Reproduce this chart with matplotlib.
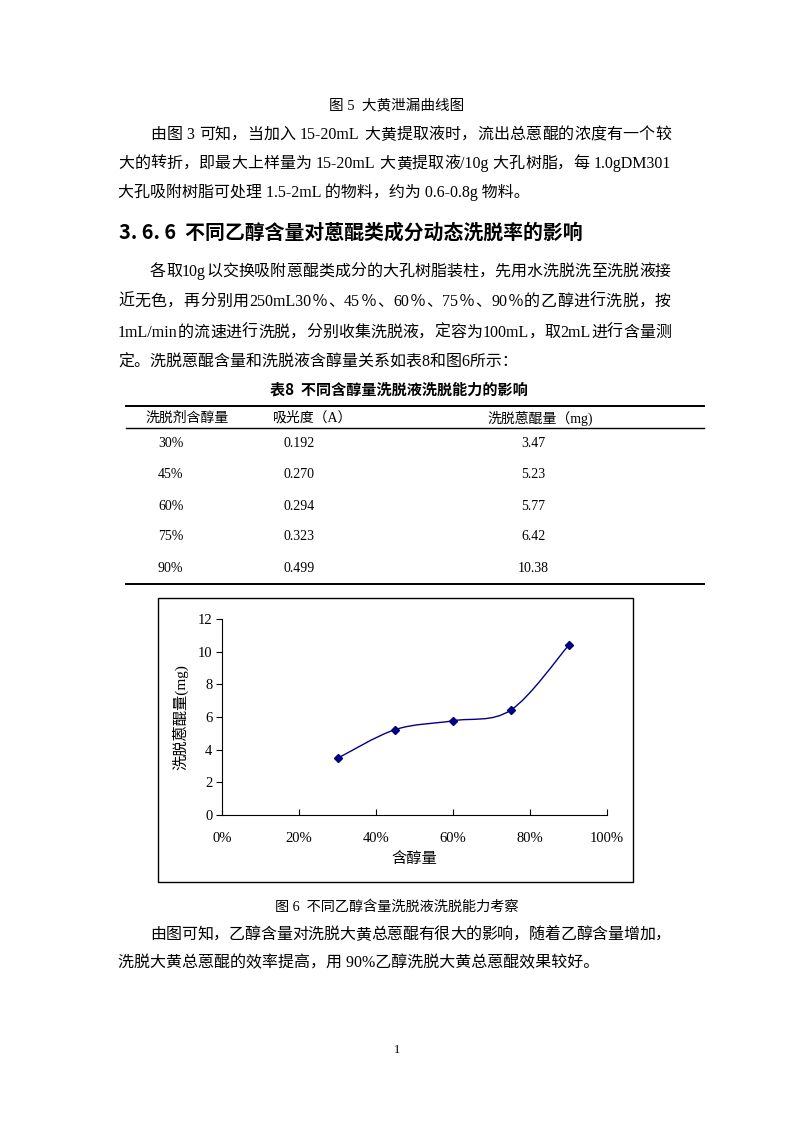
import matplotlib
matplotlib.use('Agg')
import matplotlib.pyplot as plt
from matplotlib.path import Path
from matplotlib.patches import PathPatch, Rectangle
from matplotlib.lines import Line2D

plt.rcParams['font.family'] = ['Liberation Serif', 'Noto Sans CJK SC']

# 表8 / 图6 数据
alcohol = [30, 45, 60, 75, 90]
alcohol_labels = ['30%', '45%', '60%', '75%', '90%']
absorbance = ['0.192', '0.270', '0.294', '0.323', '0.499']
anthraquinone = [3.47, 5.23, 5.77, 6.42, 10.38]
x_ticks = [0, 20, 40, 60, 80, 100]
y_ticks = [0, 2, 4, 6, 8, 10, 12]
headers = ['洗脱剂含醇量', '吸光度（A）', '洗脱蒽醌量（mg)']

W, H = 794, 1123
fig = plt.figure(figsize=(7.94, 11.23), dpi=100)
renderer = fig.canvas.get_renderer()


def fx(x):
    return x / W


def fy(y):
    return 1 - y / H


def put_line(s, x0, y, size=11.5, x1=None, **kw):
    # 两端对齐: 把多出来的宽度平均分到每个字之间
    if x1 is None:
        fig.text(fx(x0), fy(y), s, fontsize=size, va='center', **kw)
        return
    tokens = []
    buf = ''
    for ch in s:
        if ord(ch) < 128 and ch != ' ':
            buf += ch
        else:
            if buf:
                tokens.append(buf)
                buf = ''
            tokens.append(ch)
    if buf:
        tokens.append(buf)
    widths = []
    for t in tokens:
        if t == ' ':
            widths.append(0.25 * size * 100 / 72)
            continue
        tt = fig.text(0, 0, t, fontsize=size)
        widths.append(tt.get_window_extent(renderer).width)
        tt.remove()
    gap = (x1 - x0 - sum(widths)) / (len(tokens) - 1)
    x = x0
    for t, w in zip(tokens, widths):
        if t != ' ':
            fig.text(fx(x), fy(y), t, fontsize=size, va='center', **kw)
        x += w + gap


# 上一节结尾
fig.text(fx(397), fy(105), '图 5  大黄泄漏曲线图', fontsize=10.5, ha='center', va='center')
put_line('由图 3 可知，当加入 15-20mL 大黄提取液时，流出总蒽醌的浓度有一个较', 150, 135, x1=671)
put_line('大的转折，即最大上样量为 15-20mL 大黄提取液/10g 大孔树脂，每 1.0gDM301', 118, 164, x1=671)
put_line('大孔吸附树脂可处理 1.5-2mL 的物料，约为 0.6-0.8g 物料。', 118, 192)

fig.text(fx(119), fy(232), '3. 6. 6  不同乙醇含量对蒽醌类成分动态洗脱率的影响', fontsize=14.3,
         fontweight='bold', family=['Noto Sans CJK SC'], va='center')

put_line('各取10g以交换吸附蒽醌类成分的大孔树脂装柱，先用水洗脱洗至洗脱液接', 150, 272, x1=671)
put_line('近无色，再分别用250mL30％、45％、60％、75％、90％的乙醇进行洗脱，按', 118, 302, x1=671)
put_line('1mL/min的流速进行洗脱，分别收集洗脱液，定容为100mL，取2mL进行含量测', 118, 333, x1=671)
put_line('定。洗脱蒽醌含量和洗脱液含醇量关系如表8和图6所示：', 118, 363)

# 表8
fig.text(fx(399), fy(390), '表8  不同含醇量洗脱液洗脱能力的影响', fontsize=10.9, fontweight='bold',
         family=['Noto Sans CJK SC'], ha='center', va='center')
for y, lw in [(406, 1.4), (428, 1.0), (584, 1.4)]:
    fig.add_artist(Line2D([fx(126), fx(704)], [fy(y), fy(y)], color='black', lw=lw))
fig.text(fx(145), fy(418), headers[0], fontsize=10, va='center')
fig.text(fx(273), fy(418), headers[1], fontsize=10, va='center')
fig.text(fx(540), fy(418), headers[2], fontsize=10, ha='center', va='center')
row_y = [443, 475, 506, 537, 568]
for yy, a, b, c in zip(row_y, alcohol_labels, absorbance, anthraquinone):
    fig.text(fx(158), fy(yy), a, fontsize=10, va='center')
    fig.text(fx(283), fy(yy), b, fontsize=10, va='center')
    fig.text(fx(533), fy(yy), f'{c:.2f}', fontsize=10, ha='center', va='center')

# 图6
fig.add_artist(Rectangle((fx(158), fy(882)), 475 / W, 284 / H, transform=fig.transFigure,
                         fill=False, ec='black', lw=1))
ax = fig.add_axes([fx(222), fy(815), 385 / W, 196 / H])
ax.set_xlim(0, 100)
ax.set_ylim(0, 12)
ax.spines['top'].set_visible(False)
ax.spines['right'].set_visible(False)
ax.set_xticks(x_ticks)
ax.set_xticklabels([f'{t}%' for t in x_ticks])
ax.set_yticks(y_ticks)
ax.tick_params(axis='x', direction='in', length=4, pad=12, labelsize=10.5)
ax.tick_params(axis='y', direction='out', length=4, pad=3, labelsize=10.5)
ax.set_xlabel('含醇量', fontsize=11)
ax.set_ylabel('洗脱蒽醌量(mg)', fontsize=11)
ax.xaxis.set_label_coords(0.5, -0.19)
ax.yaxis.set_label_coords(-0.088, 0.5)

# 平滑线 (类似 Excel 的平滑曲线)
pts = list(zip(alcohol, anthraquinone))
verts = [pts[0]]
codes = [Path.MOVETO]
n = len(pts)
for i in range(n - 1):
    p0 = pts[max(i - 1, 0)]
    p1 = pts[i]
    p2 = pts[i + 1]
    p3 = pts[min(i + 2, n - 1)]
    c1 = (p1[0] + (p2[0] - p0[0]) / 6, p1[1] + (p2[1] - p0[1]) / 6)
    c2 = (p2[0] - (p3[0] - p1[0]) / 6, p2[1] - (p3[1] - p1[1]) / 6)
    verts += [c1, c2, p2]
    codes += [Path.CURVE4] * 3
ax.add_patch(PathPatch(Path(verts, codes), fill=False, ec='#000080', lw=1))
ax.plot(alcohol, anthraquinone, 'D', color='#000080', ms=4.5, ls='none')

fig.text(fx(397), fy(907), '图 6  不同乙醇含量洗脱液洗脱能力考察', fontsize=10.2, ha='center', va='center')
put_line('由图可知，乙醇含量对洗脱大黄总蒽醌有很大的影响，随着乙醇含量增加，', 150, 935, x1=671)
put_line('洗脱大黄总蒽醌的效率提高，用 90%乙醇洗脱大黄总蒽醌效果较好。', 118, 963)

fig.text(fx(397), fy(1050), '1', fontsize=9, ha='center', va='center')

fig.savefig('out.png', dpi=100)
